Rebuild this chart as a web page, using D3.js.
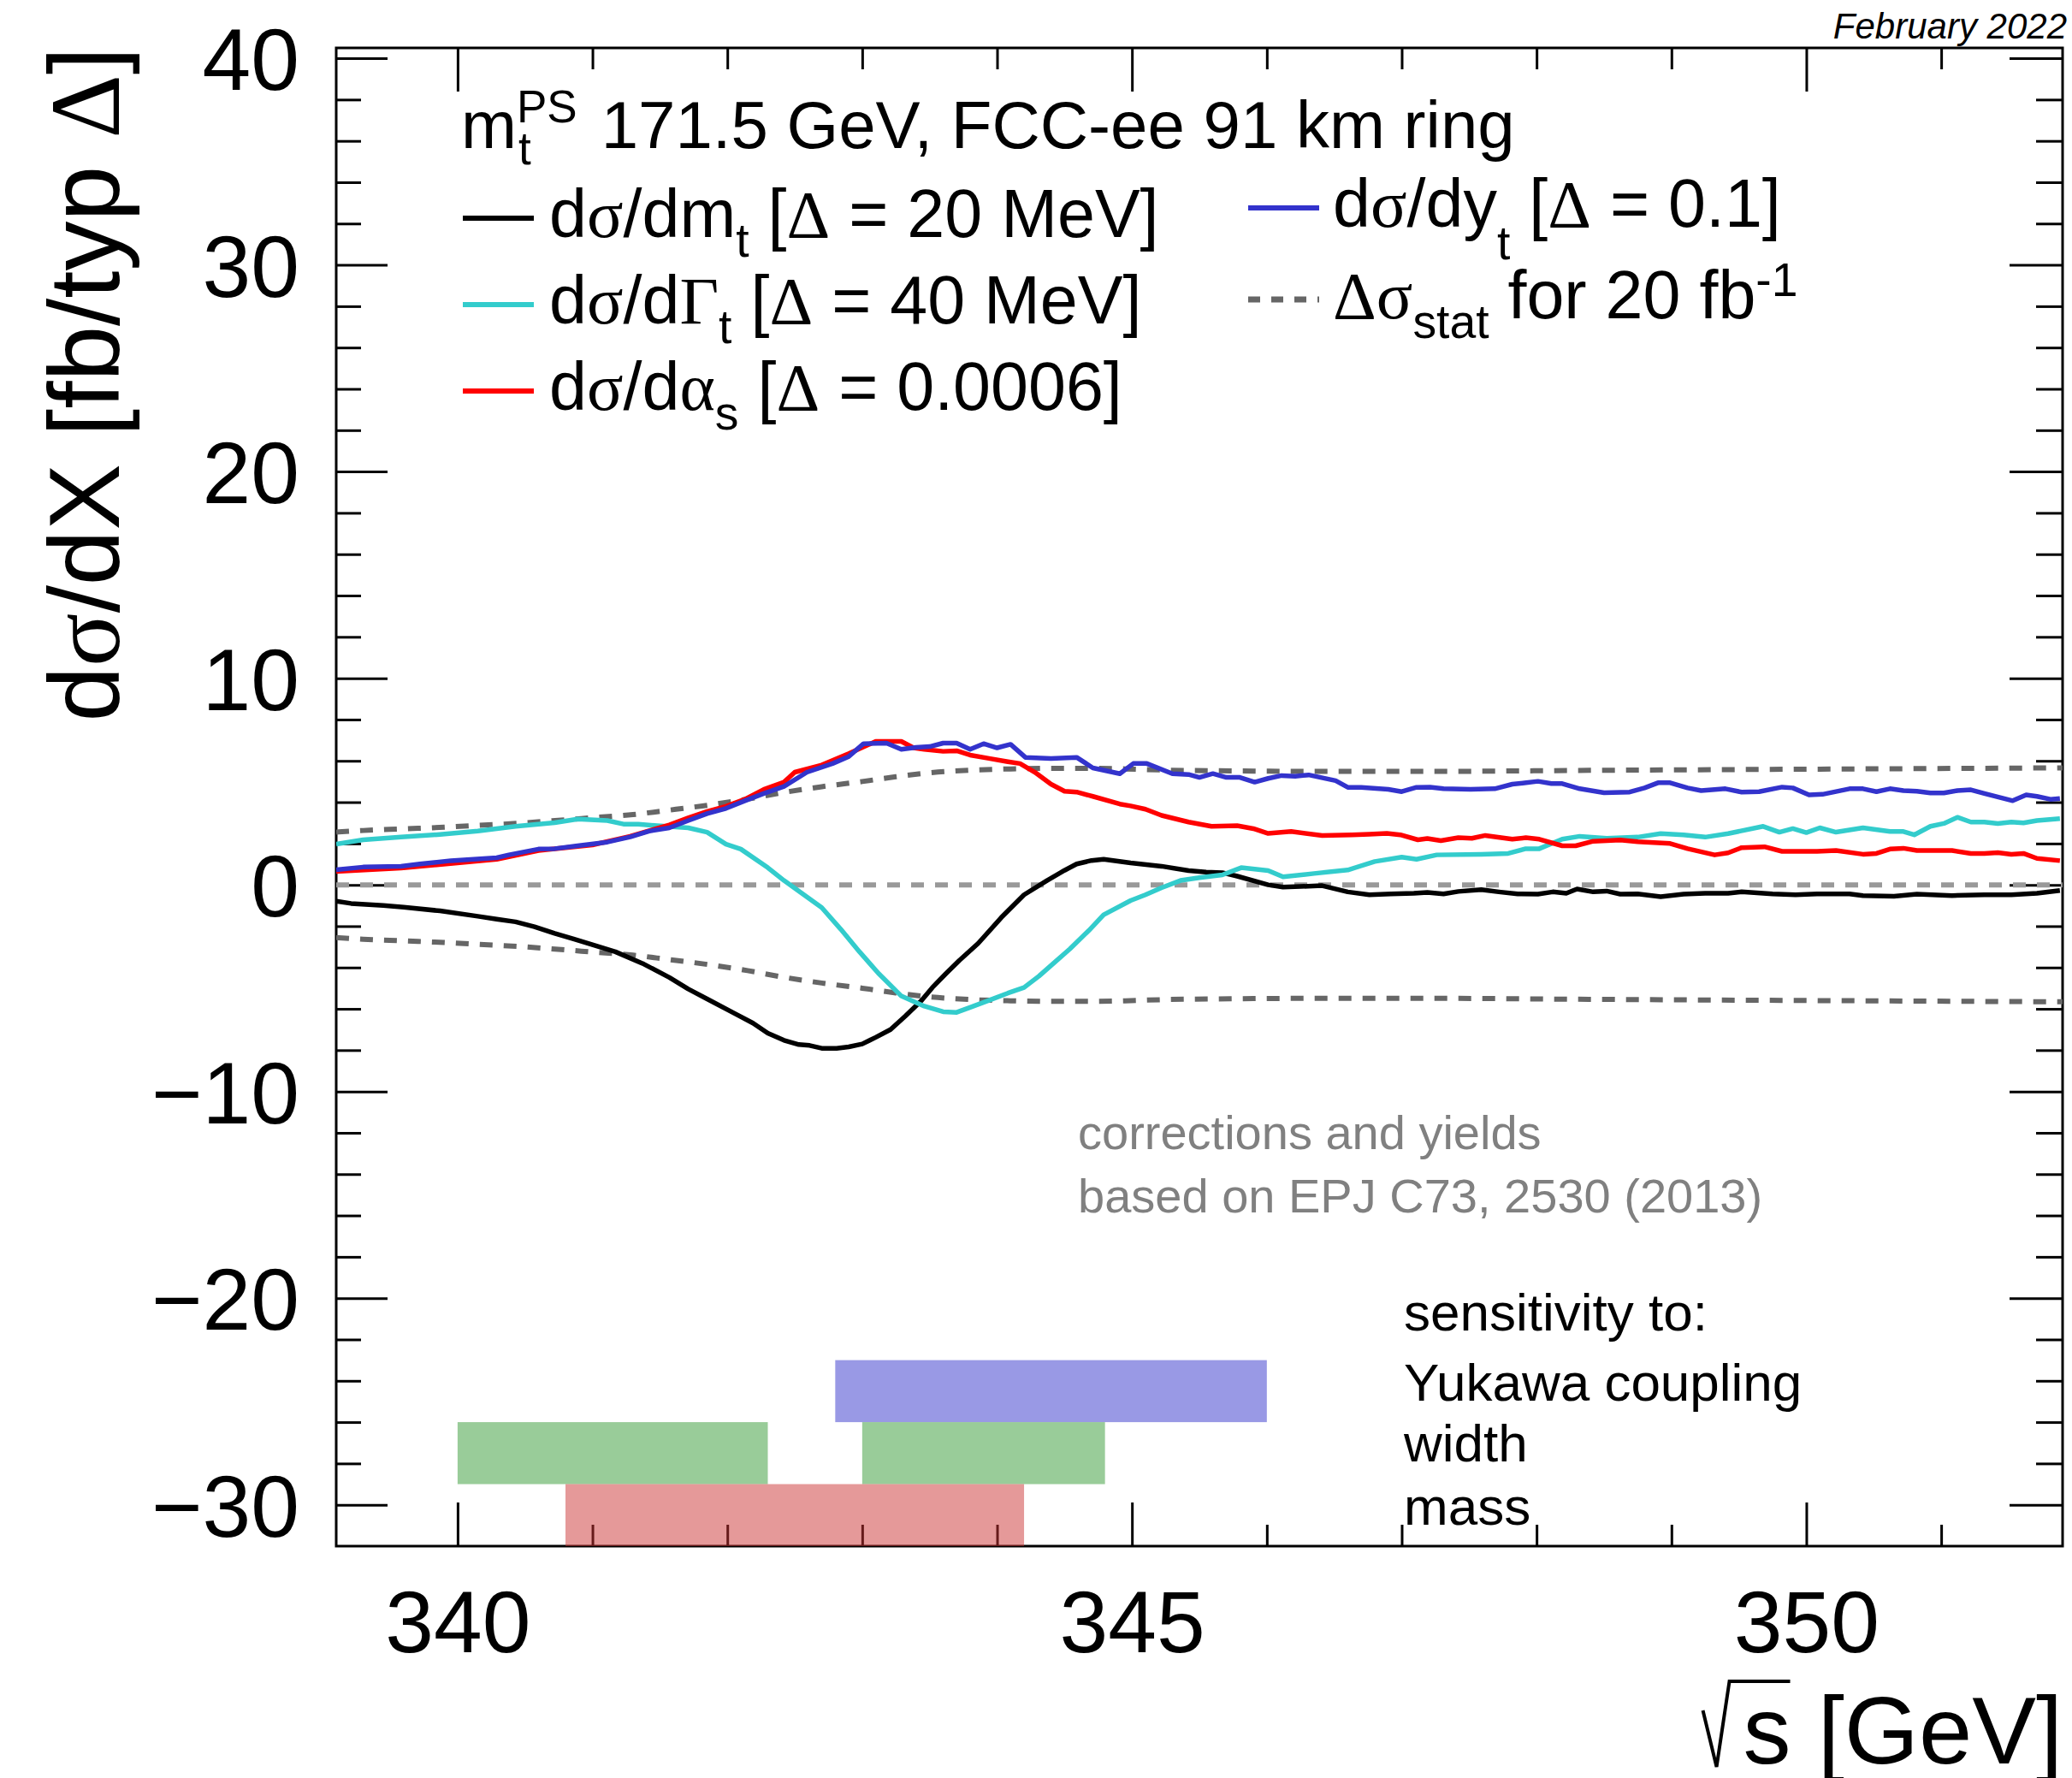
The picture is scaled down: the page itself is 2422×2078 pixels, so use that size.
<!DOCTYPE html>
<html><head><meta charset="utf-8">
<script src="https://cdn.jsdelivr.net/npm/d3@7"></script>
<style>html,body{margin:0;padding:0;background:#fff}svg{display:block}</style>
</head><body>
<script>
// ---------------- data ----------------
const xDomain = [339.1, 351.9];
const yDomain = [-32, 40.5];
const xMajorTicks = [340, 345, 350];
const yMajorTicks = [-30, -20, -10, 0, 10, 20, 30, 40];

// d sigma / d m_t  [Delta = 20 MeV]
const mtX = [339.10,339.21,339.45,339.60,339.87,340.15,340.29,340.43,340.57,340.72,340.86,341.00,341.17,341.37,341.57,341.71,341.85,342.05,342.19,342.30,342.42,342.53,342.61,342.70,342.81,342.90,343.00,343.10,343.21,343.32,343.44,343.52,343.62,343.72,343.86,344.03,344.20,344.37,344.50,344.59,344.70,344.79,344.99,345.22,345.42,345.55,345.67,345.78,346.01,346.12,346.25,346.41,346.60,346.76,346.92,347.09,347.19,347.31,347.42,347.59,347.72,347.86,348.01,348.12,348.22,348.30,348.42,348.52,348.62,348.75,348.92,349.09,349.25,349.42,349.52,349.75,349.92,350.08,350.32,350.42,350.65,350.82,351.08,351.32,351.52,351.71,351.88];
const mtY = [-0.79,-0.90,-1.00,-1.08,-1.26,-1.52,-1.66,-1.79,-2.03,-2.35,-2.62,-2.90,-3.24,-3.80,-4.48,-5.04,-5.52,-6.21,-6.69,-7.18,-7.52,-7.73,-7.77,-7.91,-7.91,-7.84,-7.70,-7.38,-7.00,-6.35,-5.59,-4.97,-4.30,-3.66,-2.83,-1.59,-0.48,0.21,0.70,1.01,1.18,1.24,1.06,0.90,0.69,0.62,0.59,0.42,0.00,-0.11,-0.08,-0.04,-0.34,-0.48,-0.44,-0.41,-0.37,-0.44,-0.32,-0.23,-0.34,-0.44,-0.45,-0.34,-0.41,-0.20,-0.34,-0.30,-0.45,-0.44,-0.57,-0.45,-0.41,-0.41,-0.34,-0.44,-0.48,-0.44,-0.44,-0.52,-0.55,-0.45,-0.52,-0.48,-0.48,-0.41,-0.27];

// d sigma / d Gamma_t  [Delta = 40 MeV]
const gtX = [339.10,339.30,339.58,339.87,340.15,340.43,340.72,340.89,341.11,341.23,341.34,341.48,341.71,341.85,341.99,342.10,342.30,342.42,342.70,342.84,342.98,343.12,343.29,343.46,343.60,343.70,343.80,343.94,344.08,344.20,344.31,344.42,344.54,344.68,344.79,344.99,345.10,345.22,345.36,345.50,345.67,345.81,346.01,346.12,346.35,346.60,346.80,347.00,347.11,347.26,347.59,347.79,347.92,348.02,348.19,348.32,348.52,348.75,348.92,349.09,349.25,349.42,349.68,349.80,349.90,350.00,350.10,350.22,350.42,350.62,350.72,350.80,350.92,351.02,351.12,351.22,351.32,351.42,351.52,351.61,351.71,351.88];
const gtY = [1.97,2.18,2.31,2.44,2.60,2.83,3.01,3.18,3.11,2.94,2.94,2.86,2.76,2.55,1.97,1.73,0.83,0.21,-1.10,-2.14,-3.24,-4.28,-5.38,-5.87,-6.14,-6.17,-5.93,-5.59,-5.24,-4.97,-4.42,-3.79,-3.10,-2.21,-1.45,-0.76,-0.48,-0.14,0.21,0.35,0.48,0.83,0.69,0.39,0.55,0.72,1.13,1.34,1.24,1.45,1.48,1.52,1.75,1.75,2.21,2.35,2.25,2.31,2.48,2.42,2.31,2.48,2.83,2.55,2.72,2.53,2.76,2.55,2.76,2.58,2.58,2.42,2.83,2.97,3.27,3.04,3.04,2.97,3.04,3.00,3.11,3.20];

// d sigma / d alpha_s  [Delta = 0.0006]
const asX = [339.10,339.58,340.29,340.60,341.00,341.28,341.42,341.57,341.71,341.85,341.99,342.13,342.27,342.42,342.50,342.70,342.90,343.10,343.29,343.38,343.46,343.60,343.70,343.80,343.94,344.08,344.17,344.28,344.40,344.50,344.59,344.71,344.91,344.99,345.10,345.22,345.42,345.59,345.78,345.90,346.01,346.18,346.41,346.63,346.76,346.89,346.99,347.12,347.19,347.29,347.42,347.52,347.62,347.82,347.92,348.02,348.19,348.29,348.42,348.62,348.75,348.99,349.12,349.32,349.42,349.52,349.69,349.82,350.08,350.22,350.42,350.52,350.62,350.72,350.82,351.08,351.22,351.32,351.42,351.52,351.61,351.71,351.88];
const asY = [0.65,0.81,1.24,1.66,1.93,2.35,2.62,2.90,3.24,3.55,3.80,4.14,4.62,4.97,5.45,5.80,6.35,6.94,6.94,6.63,6.56,6.46,6.49,6.28,6.12,5.96,5.87,5.45,4.87,4.53,4.49,4.28,3.91,3.82,3.66,3.36,3.04,2.83,2.86,2.72,2.49,2.58,2.39,2.42,2.45,2.49,2.42,2.18,2.24,2.14,2.28,2.25,2.39,2.21,2.28,2.21,1.89,1.89,2.11,2.17,2.09,2.00,1.75,1.45,1.55,1.80,1.84,1.62,1.62,1.66,1.48,1.52,1.73,1.77,1.66,1.66,1.52,1.52,1.56,1.48,1.52,1.28,1.17];

// d sigma / d y_t  [Delta = 0.1]
const ytX = [339.10,339.30,339.58,339.72,339.95,340.29,340.38,340.60,340.72,340.89,341.11,341.28,341.42,341.57,341.71,341.85,341.99,342.13,342.27,342.42,342.59,342.78,342.90,343.01,343.18,343.29,343.40,343.50,343.60,343.70,343.80,343.90,344.00,344.10,344.21,344.40,344.59,344.71,344.91,345.01,345.11,345.30,345.42,345.50,345.60,345.70,345.80,345.91,346.01,346.11,346.21,346.31,346.51,346.60,346.70,346.90,347.00,347.11,347.21,347.31,347.51,347.69,347.82,347.91,348.01,348.11,348.19,348.32,348.50,348.69,348.80,348.90,348.99,349.12,349.22,349.40,349.52,349.65,349.82,349.90,350.02,350.12,350.32,350.42,350.52,350.62,350.72,350.82,350.92,351.02,351.12,351.22,351.32,351.53,351.63,351.71,351.81,351.88];
const ytY = [0.73,0.86,0.90,1.01,1.17,1.31,1.45,1.73,1.75,1.89,2.07,2.32,2.60,2.76,3.11,3.45,3.70,4.07,4.42,4.76,5.45,5.87,6.21,6.83,6.86,6.56,6.65,6.69,6.86,6.86,6.56,6.83,6.63,6.80,6.17,6.11,6.17,5.66,5.38,5.87,5.87,5.38,5.34,5.20,5.38,5.20,5.20,4.97,5.15,5.29,5.25,5.32,5.04,4.72,4.72,4.62,4.51,4.72,4.73,4.65,4.62,4.65,4.87,4.93,5.01,4.90,4.90,4.65,4.46,4.49,4.69,4.94,4.94,4.69,4.56,4.65,4.49,4.51,4.73,4.69,4.35,4.38,4.65,4.65,4.51,4.65,4.56,4.53,4.45,4.45,4.56,4.60,4.42,4.07,4.35,4.28,4.14,4.18];

// statistical uncertainty (drawn as +/-) for 20 fb^-1
const statX = [339.10,339.30,339.60,339.90,340.15,340.45,340.70,341.00,341.30,341.55,341.85,342.15,342.40,342.70,343.00,343.25,343.50,343.80,344.10,344.40,344.65,344.95,345.20,345.80,346.40,347.20,348.40,350.10,351.90];
const statErr = [2.55,2.63,2.71,2.79,2.88,2.98,3.10,3.25,3.40,3.60,3.85,4.15,4.45,4.75,5.00,5.23,5.42,5.55,5.61,5.64,5.64,5.61,5.56,5.51,5.49,5.49,5.54,5.60,5.66];

// sensitivity bands
const bandNames = ['Yukawa coupling', 'width', 'width', 'mass'];
const bandX0 = [342.8, 340.0, 343.0, 340.8];
const bandX1 = [346.0, 342.3, 344.8, 344.2];
const bandYTop = [-23, -26, -26, -29];
const bandYBot = [-26, -29, -29, -32];

// ---------------- drawing ----------------
const W = 2422, H = 2078;
const SANS = "'Liberation Sans', Arimo, Arial, Helvetica, sans-serif";
const SERIF = "'Liberation Serif', 'Times New Roman', serif";
const L = 393, R = 2411, T = 56, B = 1807;

const svg = d3.select('body').append('svg')
  .attr('width', W).attr('height', H).attr('viewBox', `0 0 ${W} ${H}`);
svg.append('rect').attr('width', W).attr('height', H).attr('fill', '#fff');

const x = d3.scaleLinear().domain(xDomain).range([L, R]);
const y = d3.scaleLinear().domain(yDomain).range([B, T]);

svg.append('defs').append('clipPath').attr('id', 'clip')
  .append('rect').attr('x', L).attr('y', T).attr('width', R - L).attr('height', B - T);

const xMinor = d3.range(340, 352, 1).filter(v => v % 5 !== 0);
const yMinor = d3.range(-30, 41, 2).filter(v => v % 10 !== 0);

function tickAxis(axisFn, scale, vals, size, tr) {
  const g = svg.append('g').attr('transform', tr)
    .call(axisFn(scale).tickValues(vals).tickSize(size).tickFormat(''));
  g.select('.domain').remove();
  g.selectAll('.tick line').attr('stroke', '#000').attr('stroke-width', 3);
  return g;
}
tickAxis(d3.axisBottom, x, xMajorTicks, -51, `translate(0,${B})`);
tickAxis(d3.axisBottom, x, xMinor, -25, `translate(0,${B})`);
tickAxis(d3.axisTop, x, xMajorTicks, -51, `translate(0,${T})`);
tickAxis(d3.axisTop, x, xMinor, -25, `translate(0,${T})`);
tickAxis(d3.axisLeft, y, yMajorTicks, -60, `translate(${L},0)`);
tickAxis(d3.axisLeft, y, yMinor, -29, `translate(${L},0)`);
tickAxis(d3.axisRight, y, yMajorTicks, -62, `translate(${R},0)`);
tickAxis(d3.axisRight, y, yMinor, -31, `translate(${R},0)`);

// tick labels
const fmt = d => d < 0 ? '\u2212' + Math.abs(d) : String(d);
const gxl = svg.append('g').attr('transform', `translate(0,${B})`)
  .call(d3.axisBottom(x).tickValues(xMajorTicks).tickSize(0).tickPadding(52).tickFormat(fmt));
gxl.select('.domain').remove();
gxl.attr('font-size', 102).attr('font-family', SANS);
gxl.selectAll('text').attr('fill', '#000');

const gyl = svg.append('g').attr('transform', `translate(${L},0)`)
  .call(d3.axisLeft(y).tickValues(yMajorTicks).tickSize(0).tickPadding(43).tickFormat(fmt));
gyl.select('.domain').remove();
gyl.attr('font-size', 102).attr('font-family', SANS);
gyl.selectAll('text').attr('fill', '#000').attr('dy', '0.36em');

// frame
svg.append('rect').attr('x', L).attr('y', T).attr('width', R - L).attr('height', B - T)
  .attr('fill', 'none').attr('stroke', '#000').attr('stroke-width', 3);

// plot area
const plot = svg.append('g').attr('clip-path', 'url(#clip)');
const DASH = '15,13';

plot.append('line').attr('x1', x(xDomain[0])).attr('x2', x(xDomain[1]))
  .attr('y1', y(0)).attr('y2', y(0))
  .attr('stroke', '#999999').attr('stroke-width', 6).attr('stroke-dasharray', DASH);

const statIdx = d3.range(statX.length);
const statLine = sign => d3.line().curve(d3.curveMonotoneX)
  .x(i => x(statX[i])).y(i => y(sign * statErr[i]));
[1, -1].forEach(s => plot.append('path').attr('d', statLine(s)(statIdx))
  .attr('fill', 'none').attr('stroke', '#666666').attr('stroke-width', 6)
  .attr('stroke-dasharray', DASH));

function curve(xs, ys, color) {
  const line = d3.line().x(i => x(xs[i])).y(i => y(ys[i]));
  plot.append('path').attr('d', line(d3.range(xs.length)))
    .attr('fill', 'none').attr('stroke', color).attr('stroke-width', 5.5)
    .attr('stroke-linejoin', 'round');
}
curve(mtX, mtY, '#000000');
curve(gtX, gtY, '#33cccc');
curve(asX, asY, '#ff0000');
curve(ytX, ytY, '#3333cc');

// bands (semi transparent, drawn over axis)
const bandColor = {'Yukawa coupling': '#3333cc', 'width': '#339933', 'mass': '#cc3333'};
svg.append('g').selectAll('rect').data(d3.range(bandNames.length)).join('rect')
  .attr('x', i => x(bandX0[i])).attr('width', i => x(bandX1[i]) - x(bandX0[i]))
  .attr('y', i => y(bandYTop[i])).attr('height', i => y(bandYBot[i]) - y(bandYTop[i]))
  .attr('fill', i => bandColor[bandNames[i]]).attr('fill-opacity', 0.5);

// rich text helper
function rich(parent, px, py, segs, size, opts = {}) {
  const t = parent.append('text').attr('x', px).attr('y', py)
    .attr('font-size', size).attr('font-family', SANS)
    .attr('fill', opts.fill || '#000');
  if (opts.anchor) t.attr('text-anchor', opts.anchor);
  if (opts.transform) t.attr('transform', opts.transform);
  let cur = 0;
  segs.forEach(s => {
    const ts = t.append('tspan').text(s.t);
    if (s.serif) ts.attr('font-family', SERIF);
    const target = s.sub ? s.sub : (s.sup ? -s.sup : 0);
    if (target !== cur) ts.attr('dy', target - cur);
    cur = target;
    if (s.sub || s.sup) ts.attr('font-size', size * 0.7);
  });
  return t;
}

// February 2022
svg.append('text').attr('x', 2416).attr('y', 45).attr('text-anchor', 'end')
  .attr('font-size', 42).attr('font-style', 'italic').attr('font-family', SANS)
  .text('February 2022');

// axis titles
const xt = svg.append('text').attr('x', 2411).attr('y', 2061).attr('text-anchor', 'end')
  .attr('font-size', 112).attr('font-family', SANS).text('s [GeV]');
const xtLen = xt.node().getComputedTextLength();
const sx = 2411 - xtLen, by = 2061;
svg.append('path')
  .attr('d', `M${sx - 47},${by - 62} L${sx - 31},${by + 4} L${sx - 16},${by - 96} L${sx + 55},${by - 96}`)
  .attr('fill', 'none').attr('stroke', '#000').attr('stroke-width', 4).attr('stroke-linejoin', 'miter');

rich(svg, 0, 0, [
  {t: 'd'}, {t: 'σ', serif: true}, {t: '/dX [fb/typ '}, {t: 'Δ', serif: true}, {t: ']'}
], 116, {anchor: 'end', transform: 'translate(139,55) rotate(-90)'});

// legend header
const HS = 78, LS = 79;
const mT = svg.append('text').attr('x', 539).attr('y', 173).attr('font-size', HS)
  .attr('font-family', SANS).text('m');
const mW = mT.node().getComputedTextLength();
const psT = svg.append('text').attr('x', 539 + mW).attr('y', 143).attr('font-size', 53)
  .attr('font-family', SANS).text('PS');
svg.append('text').attr('x', 539 + mW + 2).attr('y', 192).attr('font-size', 53)
  .attr('font-family', SANS).text('t');
const psW = psT.node().getComputedTextLength();
svg.append('text').attr('x', 539 + mW + psW + 28).attr('y', 173).attr('font-size', HS)
  .attr('font-family', SANS).text('171.5 GeV, FCC-ee 91 km ring');

// legend entries
const leg = svg.append('g');
function legLine(x1, x2, yy, color, dashed) {
  leg.append('line').attr('x1', x1).attr('x2', x2).attr('y1', yy).attr('y2', yy)
    .attr('stroke', color).attr('stroke-width', dashed ? 7 : 6)
    .attr('stroke-dasharray', dashed ? '14,13' : null);
}
legLine(541, 624, 255, '#000000');
rich(leg, 642, 277, [{t: 'd'}, {t: 'σ', serif: true}, {t: '/dm'}, {t: 't', sub: 23}, {t: ' ['}, {t: 'Δ', serif: true}, {t: ' = 20 MeV]'}], LS);
legLine(541, 624, 356, '#33cccc');
rich(leg, 642, 378, [{t: 'd'}, {t: 'σ', serif: true}, {t: '/d'}, {t: 'Γ', serif: true}, {t: 't', sub: 23}, {t: ' ['}, {t: 'Δ', serif: true}, {t: ' = 40 MeV]'}], LS);
legLine(541, 624, 457, '#ff0000');
rich(leg, 642, 479, [{t: 'd'}, {t: 'σ', serif: true}, {t: '/d'}, {t: 'α', serif: true}, {t: 's', sub: 23}, {t: ' ['}, {t: 'Δ', serif: true}, {t: ' = 0.0006]'}], LS);
legLine(1459, 1542, 243, '#3333cc');
rich(leg, 1558, 265, [{t: 'd'}, {t: 'σ', serif: true}, {t: '/dy'}, {t: 't', sub: 38}, {t: ' ['}, {t: 'Δ', serif: true}, {t: ' = 0.1]'}], LS);
legLine(1459, 1542, 350, '#666666', true);
rich(leg, 1558, 372, [{t: 'Δσ', serif: true}, {t: 'stat', sub: 23}, {t: ' for 20 fb'}, {t: '-1', sup: 26}], LS);

// annotations
svg.append('text').attr('x', 1260).attr('y', 1343).attr('font-size', 56).attr('font-family', SANS)
  .attr('fill', '#808080').text('corrections and yields');
svg.append('text').attr('x', 1260).attr('y', 1417).attr('font-size', 56).attr('font-family', SANS)
  .attr('fill', '#808080').text('based on EPJ C73, 2530 (2013)');

const sensLines = ['sensitivity to:', 'Yukawa coupling', 'width', 'mass'];
const sensBase = [1555, 1637, 1708, 1782];
sensLines.forEach((s, i) => svg.append('text').attr('x', 1641).attr('y', sensBase[i])
  .attr('font-size', 62).attr('font-family', SANS).attr('fill', '#000').text(s));
</script>
</body></html>
